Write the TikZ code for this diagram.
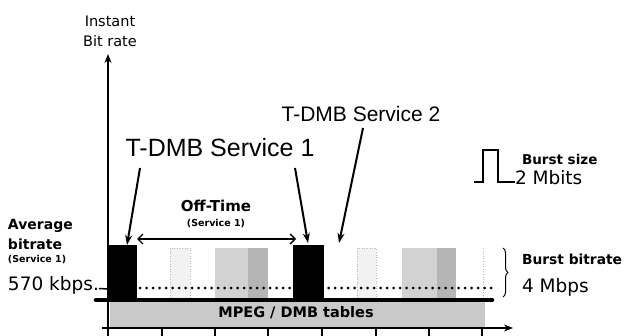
\documentclass[tikz,border=0pt]{standalone}
\usepackage{fontspec}
\setmainfont{DejaVu Sans}
\newfontfamily\arialf{Liberation Sans}
\usetikzlibrary{arrows.meta,decorations.pathreplacing}
\begin{document}
\begin{tikzpicture}[x=1pt,y=-1pt,
  lbl/.style={inner sep=0pt, outer sep=0pt},
  ptr/.style={line width=2pt, -{Stealth[length=10pt,width=7pt]}},
  axis/.style={line width=1.8pt, -{Stealth[length=9pt,width=7pt]}},
  burstbox/.style={fill=black, draw=none},
  lightbar/.style={fill=gray!10, draw=gray!55, dotted, line width=0.6pt},
  midbar/.style={fill=gray!35, draw=none},
  darkbar/.style={fill=gray!58, draw=none},
  tickmark/.style={line width=1.5pt}]
\useasboundingbox (0,0) rectangle (628,336);
% table band
\fill[gray!42] (110,302) rectangle (485,327);
% other services' bars
\draw[lightbar] (170,248) rectangle (190,298);
\fill[midbar] (215,248) rectangle (248,298);
\fill[darkbar] (248,248) rectangle (268,298);
\draw[lightbar] (357,248) rectangle (376,298);
\fill[midbar] (402,248) rectangle (437,298);
\fill[darkbar] (437,248) rectangle (456,298);
\draw[gray!55, dotted, line width=0.6pt] (483,248) -- (483,298);
% average level
\draw[line width=3pt, line cap=round, dash pattern=on 0pt off 6.5pt] (140,288) -- (492,288);
% bursts of service 1
\fill[burstbox] (107,245) rectangle (137,300);
\fill[burstbox] (293,245) rectangle (324,300);
% base line
\draw[line width=4.5pt, line cap=round] (96,300) -- (492,300);
% axes
\coordinate (yb) at (108,336);
\coordinate (yt) at (108,54);
\coordinate (xl) at (102,328);
\coordinate (xr) at (513,328);
\draw[axis] (yb) -- (yt);
\draw[axis] (xl) -- (xr);
\foreach \t in {162,215,268,322,376,429,482}
  \draw[tickmark] (\t,328) -- (\t,336);
% band text
\node[lbl, font=\bfseries\fontsize{14.5}{16}\selectfont] (mpeg) at (296,313) {MPEG / DMB tables};
% axis label
\node[lbl, align=center, font=\fontsize{14.5}{20}\selectfont] (ylab) at (110,31) {Instant\\Bit rate};
% service labels
\node[lbl, anchor=base, font=\arialf\fontsize{25}{28}\selectfont] (s1) at (220,157) {T-DMB Service 1};
\node[lbl, anchor=base, font=\arialf\fontsize{21}{24}\selectfont] (s2) at (361,122) {T-DMB Service 2};
\coordinate (s1a) at (140,168);
\coordinate (s1b) at (295,168);
\coordinate (s2a) at (363,128);
\coordinate (b1top) at (127,245);
\coordinate (b2top) at (308,243);
\coordinate (b3top) at (339,243);
\draw[ptr] (s1a) -- (b1top);
\draw[ptr] (s1b) -- (b2top);
\draw[ptr] (s2a) -- (b3top);
% off time
\node[lbl, font=\bfseries\fontsize{15}{17}\selectfont] (off) at (216,206) {Off-Time};
\node[lbl, font=\bfseries\fontsize{9.5}{11}\selectfont] (offs) at (216,224) {(Service 1)};
\coordinate (ol) at (137,239);
\coordinate (or) at (296,239);
\draw[line width=1.3pt, {Straight Barb[length=5pt,width=10pt]}-{Straight Barb[length=5pt,width=10pt]}] (ol) -- (or);
% average bitrate
\node[lbl, anchor=base west, font=\bfseries\fontsize{14}{16}\selectfont] (avg) at (8,230) {Average};
\node[lbl, anchor=base west, font=\bfseries\fontsize{14}{16}\selectfont] (avgb) at (8,250) {bitrate};
\node[lbl, anchor=base west, font=\bfseries\fontsize{9.5}{11}\selectfont] (avgs) at (8,262) {(Service 1)};
\node[lbl, anchor=base west, font=\fontsize{18.5}{20}\selectfont] (kbps) at (8,290) {570 kbps.};
\coordinate (kend) at (108,289);
\draw[line width=1.5pt] (kbps.base east) ++(0,-1.5) coordinate (kst) -- (kend);
% burst size
\coordinate (p0) at (474,182);
\coordinate (p3) at (515,182);
\draw[line width=1.8pt] (p0) -- (483,182) -- (483,150) -- (498,150) -- (498,182) -- (p3);
\node[lbl, anchor=base west, font=\bfseries\fontsize{13.5}{15}\selectfont] (bs) at (522,165) {Burst size};
\node[lbl, anchor=base west, font=\fontsize{18.5}{20}\selectfont] (bsv) at (515,185) {2 Mbits};
% burst bitrate
\coordinate (brt) at (503,248);
\coordinate (brb) at (503,297);
\draw[decorate, decoration={brace, amplitude=5pt}, line width=1pt] (brt) -- (brb);
\node[lbl, anchor=base west, font=\bfseries\fontsize{13.8}{15}\selectfont] (bb) at (522,265) {Burst bitrate};
\node[lbl, anchor=base west, font=\fontsize{18.5}{20}\selectfont] (bbv) at (522,292) {4 Mbps};
\end{tikzpicture}
\end{document}
